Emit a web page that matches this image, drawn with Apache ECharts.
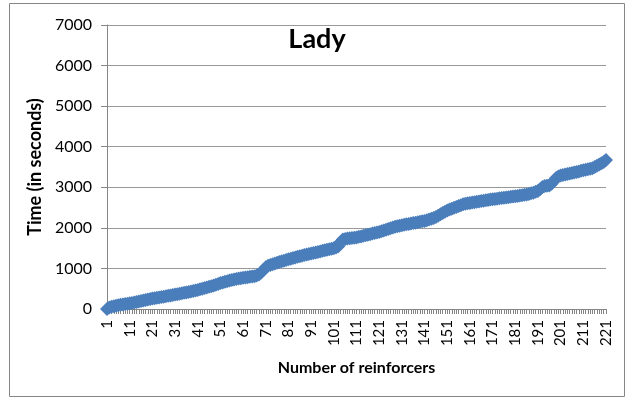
<!DOCTYPE html>
<html>
<head>
<meta charset="utf-8">
<script src="https://cdn.jsdelivr.net/npm/echarts@6/dist/echarts.min.js"></script>
<style>
  html, body { margin: 0; padding: 0; background: #fff; }
  #main { width: 630px; height: 403px; }
</style>
</head>
<body>
<div id="main"></div>
<script>
// cumulative time (seconds) per reinforcer
var timeSec = [
  0, 38, 55, 68, 80, 92, 103, 112, 121, 131,
  140, 150, 161, 172, 184, 196, 207, 219, 233, 246,
  260, 268, 277, 286, 295, 305, 314, 324, 335, 345,
  355, 365, 376, 386, 398, 409, 421, 433, 446, 458,
  470, 484, 500, 515, 530, 547, 563, 580, 597, 618,
  640, 655, 670, 686, 700, 715, 728, 740, 750, 760,
  770, 778, 785, 792, 800, 810, 826, 850, 900, 960,
  1030, 1065, 1085, 1105, 1122, 1140, 1158, 1175, 1192, 1208,
  1225, 1240, 1255, 1270, 1285, 1300, 1314, 1328, 1342, 1356,
  1370, 1383, 1395, 1408, 1420, 1433, 1446, 1458, 1470, 1484,
  1500, 1518, 1545, 1650, 1715, 1728, 1737, 1745, 1752, 1758,
  1765, 1778, 1790, 1803, 1817, 1831, 1845, 1860, 1873, 1886,
  1900, 1918, 1936, 1955, 1973, 1992, 2010, 2027, 2042, 2055,
  2065, 2076, 2086, 2096, 2106, 2117, 2128, 2140, 2151, 2161,
  2170, 2186, 2205, 2224, 2245, 2270, 2300, 2333, 2366, 2398,
  2430, 2452, 2474, 2496, 2517, 2538, 2560, 2580, 2597, 2607,
  2615, 2624, 2633, 2642, 2651, 2660, 2669, 2678, 2687, 2696,
  2705, 2712, 2720, 2727, 2735, 2742, 2750, 2757, 2765, 2772,
  2780, 2788, 2796, 2805, 2814, 2824, 2836, 2850, 2868, 2888,
  2910, 2960, 3010, 3030, 3040, 3045, 3090, 3160, 3230, 3265,
  3290, 3303, 3315, 3327, 3340, 3352, 3364, 3377, 3390, 3405,
  3420, 3432, 3446, 3458, 3470, 3500, 3530, 3560, 3590, 3625,
  3670
];
var reinforcers = [];
for (var i = 1; i <= timeSec.length; i++) reinforcers.push(String(i));

var chartTitle = 'Lady';
var xName = 'Number of reinforcers';
var yName = 'Time (in seconds)';

var font = 'Lato, "Open Sans", sans-serif';
var myChart = echarts.init(document.getElementById('main'));

var option = {
  animation: false,
  title: {
    text: chartTitle,
    left: 312,
    top: 21,
    textAlign: 'center',
    textStyle: { fontFamily: font, fontSize: 27, fontWeight: 'bold', color: '#000' }
  },
  graphic: [{
    type: 'rect',
    shape: { x: 9.5, y: 3.5, width: 615, height: 393 },
    style: { fill: 'none', stroke: '#868686', lineWidth: 1 },
    silent: true
  }],
  grid: { left: 107, right: 24, top: 25, bottom: 94 },
  xAxis: {
    type: 'category',
    data: reinforcers,
    boundaryGap: false,
    name: xName,
    nameLocation: 'middle',
    nameGap: 51,
    nameTextStyle: { fontFamily: font, fontSize: 16, fontWeight: 'bold', color: '#000' },
    axisLine: { lineStyle: { color: '#868686' } },
    axisTick: { interval: 0, length: 5, lineStyle: { color: '#868686' } },
    axisLabel: {
      interval: 9, rotate: 90, margin: 11,
      fontFamily: font, fontSize: 15, color: '#000'
    }
  },
  yAxis: {
    type: 'value',
    min: 0, max: 7000, interval: 1000,
    name: yName,
    nameLocation: 'middle',
    nameGap: 58,
    nameTextStyle: { fontFamily: font, fontSize: 18, fontWeight: 'bold', color: '#000' },
    axisLine: { show: true, lineStyle: { color: '#868686' } },
    axisTick: { show: true, length: 6, lineStyle: { color: '#868686' } },
    axisLabel: {
      fontFamily: font, fontSize: 16, color: '#000', margin: 15,
      formatter: function (v) { return String(v); }
    },
    splitLine: { lineStyle: { color: '#999999' } }
  },
  series: [{
    type: 'line',
    data: timeSec,
    symbol: 'diamond',
    symbolSize: 14,
    showAllSymbol: true,
    itemStyle: { color: '#4a7ebb' },
    lineStyle: { color: '#4a7ebb', width: 5 }
  }]
};
myChart.setOption(option);
</script>
</body>
</html>
